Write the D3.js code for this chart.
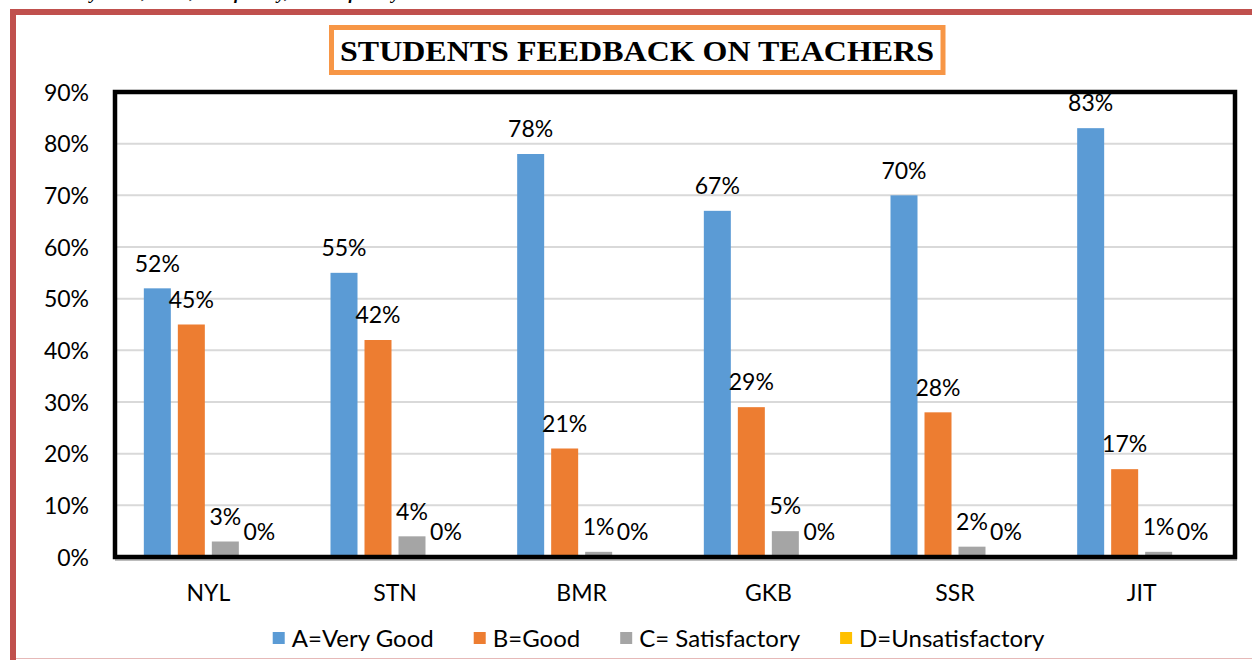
<!DOCTYPE html>
<html>
<head>
<meta charset="utf-8">
<script src="https://cdn.jsdelivr.net/npm/d3@7"></script>
<style>
  html, body { margin: 0; padding: 0; background: #fff; }
  svg { display: block; }
</style>
</head>
<body>
<svg id="chart" width="1252" height="660"></svg>
<script>
const categories = ["NYL", "STN", "BMR", "GKB", "SSR", "JIT"];
const seriesNames = ["A=Very Good", "B=Good", "C= Satisfactory", "D=Unsatisfactory"];
const seriesColors = ["#5B9BD5", "#ED7D31", "#A5A5A5", "#FFC000"];
const veryGood = [52, 55, 78, 67, 70, 83];
const good = [45, 42, 21, 29, 28, 17];
const satisfactory = [3, 4, 1, 5, 2, 1];
const unsatisfactory = [0, 0, 0, 0, 0, 0];
const yTicks = [0, 10, 20, 30, 40, 50, 60, 70, 80, 90];
const titleText = "STUDENTS FEEDBACK ON TEACHERS";
const headerText = "Very Good, Good, Satisfactory, Unsatisfactory";

const seriesValues = [veryGood, good, satisfactory, unsatisfactory];
const font = "Lato, 'Open Sans', sans-serif";

const svg = d3.select("#chart");

// page header text (clipped at top edge, as in the source page)
const header = svg.append("text")
  .attr("x", 0).attr("y", -1)
  .attr("font-family", "'Liberation Serif', serif")
  .attr("font-weight", "bold").attr("font-style", "italic")
  .attr("font-size", 20).attr("fill", "#000")
  .text(headerText);
{
  const n = header.node();
  const firstY = headerText.indexOf("y");
  const lastY = headerText.lastIndexOf("y");
  const p1 = n.getStartPositionOfChar(firstY).x;
  const p2 = n.getStartPositionOfChar(lastY).x;
  const k = 302 / (p2 - p1);
  header.attr("font-size", 20 * k);
  const q1 = n.getStartPositionOfChar(firstY).x;
  header.attr("x", 90 - q1);
}

// red page frame
svg.append("rect").attr("x", 10).attr("y", 9).attr("width", 1242).attr("height", 6).attr("fill", "#C0504D");
svg.append("rect").attr("x", 10).attr("y", 9).attr("width", 6).attr("height", 651).attr("fill", "#C0504D");
svg.append("line").attr("x1", 16).attr("x2", 1252).attr("y1", 658.5).attr("y2", 658.5)
  .attr("stroke", "#E6B9B8").attr("stroke-width", 1);

// title box
svg.append("rect").attr("x", 331.5).attr("y", 27.5).attr("width", 611.5).attr("height", 45)
  .attr("fill", "#fff").attr("stroke", "#F79646").attr("stroke-width", 5);
svg.append("text")
  .attr("x", 637).attr("y", 61)
  .attr("text-anchor", "middle")
  .attr("font-family", "'Liberation Serif', 'Times New Roman', serif")
  .attr("font-weight", "bold").attr("font-size", 30)
  .attr("textLength", 594).attr("lengthAdjust", "spacingAndGlyphs")
  .attr("fill", "#000")
  .text(titleText);

// scales
const plot = { left: 115, right: 1235, top: 92, bottom: 557 };
const x0 = d3.scaleBand().domain(categories).range([plot.left, plot.right]);
const groupW = 129;
const x1 = d3.scaleBand().domain(seriesNames).range([0, groupW]).paddingInner(7 / 34);
const y = d3.scaleLinear().domain([0, 90]).range([plot.bottom, plot.top]);

// gridlines
svg.append("g").selectAll("line").data(yTicks.slice(1, -1)).join("line")
  .attr("x1", plot.left).attr("x2", plot.right)
  .attr("y1", d => y(d)).attr("y2", d => y(d))
  .attr("stroke", "#D9D9D9").attr("stroke-width", 2);

// y axis labels
const yAxis = d3.axisLeft(y).tickValues(yTicks).tickFormat(d => d + "%").tickSize(0).tickPadding(0);
const yg = svg.append("g").attr("transform", "translate(89,0)").call(yAxis);
yg.select(".domain").remove();
yg.selectAll("text").attr("font-family", font).attr("font-size", 23).attr("fill", "#000").attr("dy", "0.36em");

// bars
const groups = svg.append("g").selectAll("g").data(categories).join("g")
  .attr("transform", d => `translate(${x0(d) + x0.bandwidth() / 2 - groupW / 2},0)`);

groups.each(function (cat, ci) {
  const g = d3.select(this);
  const rows = seriesNames.map((s, si) => ({ s, si, v: seriesValues[si][ci] }));
  g.selectAll("rect").data(rows).join("rect")
    .attr("x", d => x1(d.s)).attr("width", x1.bandwidth())
    .attr("y", d => y(d.v)).attr("height", d => y(0) - y(d.v))
    .attr("fill", d => seriesColors[d.si]);
  g.selectAll("text").data(rows).join("text")
    .attr("x", d => x1(d.s) + x1.bandwidth() / 2)
    .attr("y", d => y(d.v) - 25)
    .attr("dy", "0.36em")
    .attr("text-anchor", "middle")
    .attr("font-family", font).attr("font-size", 23).attr("fill", "#000")
    .text(d => d.v + "%");
});

// plot frame
svg.append("line").attr("x1", plot.left).attr("x2", plot.right + 2).attr("y1", plot.bottom + 3).attr("y2", plot.bottom + 3)
  .attr("stroke", "#A6A6A6").attr("stroke-width", 1.5);
svg.append("rect")
  .attr("x", plot.left).attr("y", plot.top)
  .attr("width", plot.right - plot.left).attr("height", plot.bottom - plot.top)
  .attr("fill", "none").attr("stroke", "#000").attr("stroke-width", 4.5);

// x axis labels
const xAxis = d3.axisBottom(x0).tickSize(0).tickPadding(0);
const xg = svg.append("g").attr("transform", `translate(0,593)`).call(xAxis);
xg.select(".domain").remove();
xg.selectAll("text").attr("font-family", font).attr("font-size", 23).attr("fill", "#000").attr("dy", "0.36em");

// legend
const legend = svg.append("g");
const items = legend.selectAll("g").data(seriesNames).join("g");
items.append("rect").attr("width", 12).attr("height", 12).attr("y", 632)
  .attr("fill", (d, i) => seriesColors[i]);
items.append("text").attr("x", 19).attr("y", 638).attr("dy", "0.36em")
  .attr("font-family", font).attr("font-size", 24).attr("fill", "#000")
  .text(d => d);
let widths = [];
items.each(function () { widths.push(19 + d3.select(this).select("text").node().getComputedTextLength()); });
const gap = 40;
const total = d3.sum(widths) + gap * (widths.length - 1);
let cx = 658.5 - total / 2;
items.each(function (d, i) {
  d3.select(this).attr("transform", `translate(${cx},0)`);
  cx += widths[i] + gap;
});
</script>
</body>
</html>
